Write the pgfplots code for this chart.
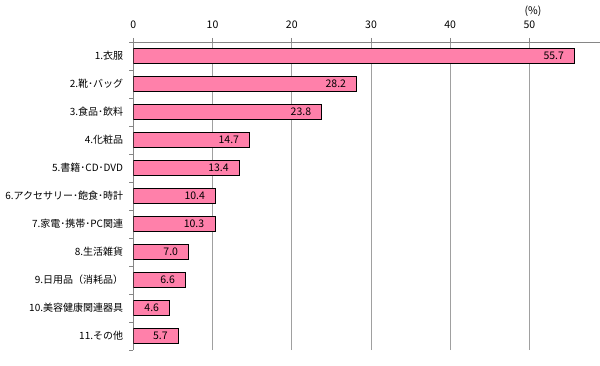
\documentclass[border=0pt]{standalone}
\usepackage{pgfplots}
\pgfplotsset{compat=1.18}
\usepackage{fontspec}
\setmainfont{Noto Sans CJK JP}
\definecolor{barpink}{RGB}{255,128,170}
\definecolor{axgray}{RGB}{134,134,134}
\definecolor{gridgray}{RGB}{160,160,160}
\begin{document}
\begin{tikzpicture}
\useasboundingbox (0pt,0pt) rectangle (600pt,365pt);
\begin{axis}[
  at={(133.3pt,323pt)}, anchor=north west,
  scale only axis, width=466.7pt, height=308pt,
  xbar, bar width=15pt,
  xmin=0, xmax=58.9, ymin=-0.5, ymax=10.5,
  axis x line*=top, axis y line*=left,
  axis line style={axgray, line width=0.8pt, -},
  /pgf/number format/assume math mode=true,
  font=\fontsize{10.5}{12}\selectfont,
  xtick={0,10,...,50},
  minor xtick={0,10,...,50},
  ytick={0,...,10},
  minor ytick={-0.5,0.5,...,10.5},
  major tick length=0pt, minor tick length=4pt,
  tick align=outside,
  tick style={axgray, line width=0.8pt},
  xmajorgrids, grid style={gridgray, line width=0.8pt},
  yticklabels={11.その他,10.美容健康関連器具,9.日用品（消耗品）,8.生活雑貨,7.家電･携帯･PC関連,6.アクセサリー･飽食･時計,5.書籍･CD･DVD,4.化粧品,3.食品･飲料,2.靴･バッグ,1.衣服},
  yticklabel style={inner xsep=0pt, xshift=-10pt, anchor=east, font=\fontsize{10}{12}\selectfont},
  xticklabel style={inner sep=0pt, anchor=south, yshift=13pt},
  nodes near coords,
  nodes near coords style={/pgf/number format/fixed, /pgf/number format/fixed zerofill, /pgf/number format/precision=1, /pgf/number format/assume math mode=true},
  every node near coord/.append style={anchor=east, xshift=-7pt, font=\fontsize{10.5}{12}\selectfont, text=black},
]
\addplot[fill=barpink, draw=black, line width=0.8pt] coordinates {
  (5.7,0) (4.6,1) (6.6,2) (7.0,3) (10.3,4) (10.4,5) (13.4,6) (14.7,7) (23.8,8) (28.2,9) (55.7,10)
};
\end{axis}
\node[font=\fontsize{10.5}{12}\selectfont] at (533pt,353.5pt) {(\%)};
\end{tikzpicture}
\end{document}
